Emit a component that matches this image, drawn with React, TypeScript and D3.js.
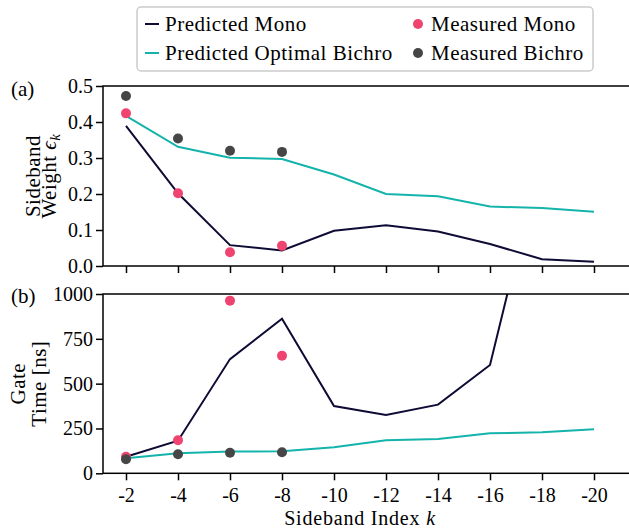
import * as d3 from "d3";
import { useEffect, useRef } from "react";

const sidebands = [-2, -4, -6, -8, -10, -12, -14, -16, -18, -20];
const measuredSidebands = [-2, -4, -6, -8];

// (a) sideband weights
const weightPredMono = [0.389, 0.202, 0.058, 0.043, 0.098, 0.113, 0.096, 0.061, 0.019, 0.012];
const weightPredBichro = [0.417, 0.331, 0.301, 0.297, 0.254, 0.2, 0.194, 0.165, 0.161, 0.151];
const weightMeasMono = [0.424, 0.202, 0.038, 0.056];
const weightMeasBichro = [0.472, 0.354, 0.32, 0.317];

// (b) gate times [ns]
const timePredMono = [92, 182, 637, 862, 375, 325, 383, 604, 1790, 2500];
const timePredBichro = [84, 112, 121, 123, 145, 184, 191, 223, 229, 245];
const timeMeasMono = [92, 184, 963, 656];
const timeMeasBichro = [78, 106, 115, 117];

const weightTicks = [0, 0.1, 0.2, 0.3, 0.4, 0.5];
const timeTicks = [0, 250, 500, 750, 1000];

const NAVY = "#0e0b34";
const TEAL = "#14b3ab";
const PINK = "#ef4470";
const GREY = "#464646";
const FONT = "Liberation Serif";
const TEXT_SIZE = 21;
const SPACING = 0.5;

export default function App() {
  const svgRef = useRef<SVGSVGElement | null>(null);

  useEffect(() => {
    if (!svgRef.current) return;
    const svg = d3.select(svgRef.current);
    svg.selectAll("*").remove();

    const left = 103;
    const right = 634;
    const x = d3.scaleLinear().domain([-2, -20]).range([126, 594]);

    const panels = [
      {
        top: 86, bottom: 266, domain: [0, 0.5], ticks: weightTicks,
        fmt: (d: number) => d.toFixed(1),
        predMono: weightPredMono, predBichro: weightPredBichro,
        measMono: weightMeasMono, measBichro: weightMeasBichro,
        tag: "(a)", tagY: 96,
        label: [
          { text: "Sideband", x: 40 },
          { text: "Weight ", x: 56, sym: true },
        ],
      },
      {
        top: 294, bottom: 473.3, domain: [0, 1000], ticks: timeTicks,
        fmt: (d: number) => String(d),
        predMono: timePredMono, predBichro: timePredBichro,
        measMono: timeMeasMono, measBichro: timeMeasBichro,
        tag: "(b)", tagY: 303,
        label: [
          { text: "Gate", x: 25 },
          { text: "Time [ns]", x: 46 },
        ],
      },
    ];

    panels.forEach((p, pi) => {
      const y = d3.scaleLinear().domain(p.domain).range([p.bottom, p.top]);
      const g = svg.append("g");

      const clipId = `clip${pi}`;
      svg.append("clipPath").attr("id", clipId)
        .append("rect").attr("x", left).attr("y", p.top)
        .attr("width", right - left).attr("height", p.bottom - p.top);

      const line = d3.line<number>().x((_, i) => x(sidebands[i])).y((d) => y(d));

      const plot = g.append("g").attr("clip-path", `url(#${clipId})`);
      plot.append("path").attr("d", line(p.predMono)).attr("fill", "none")
        .attr("stroke", NAVY).attr("stroke-width", 2);
      plot.append("path").attr("d", line(p.predBichro)).attr("fill", "none")
        .attr("stroke", TEAL).attr("stroke-width", 2);

      plot.selectAll(".mm").data(p.measMono).join("circle")
        .attr("cx", (_, i) => x(measuredSidebands[i])).attr("cy", (d) => y(d))
        .attr("r", 5).attr("fill", PINK);
      plot.selectAll(".mb").data(p.measBichro).join("circle")
        .attr("cx", (_, i) => x(measuredSidebands[i])).attr("cy", (d) => y(d))
        .attr("r", 5).attr("fill", GREY);

      // frame
      g.append("rect").attr("x", left).attr("y", p.top)
        .attr("width", right - left).attr("height", p.bottom - p.top)
        .attr("fill", "none").attr("stroke", "#000").attr("stroke-width", 1.5);

      // y axis
      const yAxis = g.append("g").attr("transform", `translate(${left},0)`)
        .call(d3.axisLeft(y).tickValues(p.ticks).tickFormat((d) => p.fmt(d as number)).tickSize(7).tickPadding(3));
      yAxis.select(".domain").remove();
      yAxis.selectAll("line").attr("stroke-width", 1.5);
      yAxis.selectAll("text").attr("font-family", FONT).attr("font-size", 20).attr("fill", "#000");

      // x axis
      const xAxis = g.append("g").attr("transform", `translate(0,${p.bottom})`)
        .call(d3.axisBottom(x).tickValues(sidebands).tickFormat((d) => String(d)).tickSize(7));
      xAxis.select(".domain").remove();
      xAxis.selectAll("line").attr("stroke-width", 1.5);
      xAxis.selectAll("text").attr("font-family", FONT).attr("font-size", 20).attr("fill", "#000")
        .attr("dy", null).attr("y", 28.5);
      if (pi === 0) xAxis.selectAll("text").remove();

      // panel tag
      g.append("text").attr("x", 11).attr("y", p.tagY).attr("font-family", FONT)
        .attr("font-size", TEXT_SIZE).text(p.tag);

      // y label
      const cy = (p.top + p.bottom) / 2;
      p.label.forEach((l) => {
        const t = g.append("text")
          .attr("transform", `translate(${l.x},${cy}) rotate(-90)`)
          .attr("text-anchor", "middle").attr("font-family", FONT).attr("font-size", TEXT_SIZE)
          .attr("letter-spacing", SPACING)
          .text(l.text);
        if (l.sym) {
          t.append("tspan").attr("font-style", "italic").text("ϵ");
          t.append("tspan").attr("font-style", "italic").attr("font-size", 15).attr("dy", 4).text("k");
        }
      });
    });

    // x label
    const xl = svg.append("text").attr("x", (126 + 594) / 2).attr("y", 525)
      .attr("text-anchor", "middle").attr("font-family", FONT).attr("font-size", 20)
      .attr("letter-spacing", 0.8)
      .text("Sideband Index ");
    xl.append("tspan").attr("font-style", "italic").text("k");

    // legend
    const lg = svg.append("g");
    lg.append("rect").attr("x", 137).attr("y", 7).attr("width", 456).attr("height", 64)
      .attr("rx", 4).attr("fill", "#fff").attr("stroke", "#cccccc").attr("stroke-width", 1.5);
    const entries = [
      { label: "Predicted Mono", kind: "line", color: NAVY, x: 145, y: 24 },
      { label: "Predicted Optimal Bichro", kind: "line", color: TEAL, x: 145, y: 53 },
      { label: "Measured Mono", kind: "dot", color: PINK, x: 411, y: 24 },
      { label: "Measured Bichro", kind: "dot", color: GREY, x: 411, y: 53 },
    ];
    entries.forEach((e) => {
      if (e.kind === "line") {
        lg.append("line").attr("x1", e.x).attr("x2", e.x + 14).attr("y1", e.y).attr("y2", e.y)
          .attr("stroke", e.color).attr("stroke-width", 2);
      } else {
        lg.append("circle").attr("cx", e.x + 7).attr("cy", e.y).attr("r", 5).attr("fill", e.color);
      }
      lg.append("text").attr("x", e.x + 20).attr("y", e.y + 6.5).attr("font-family", FONT)
        .attr("font-size", TEXT_SIZE).attr("letter-spacing", SPACING).text(e.label);
    });
  }, []);

  return (
    <svg
      ref={svgRef}
      width={629}
      height={529}
      style={{ position: "absolute", left: 0, top: 0, background: "#fff" }}
    />
  );
}
